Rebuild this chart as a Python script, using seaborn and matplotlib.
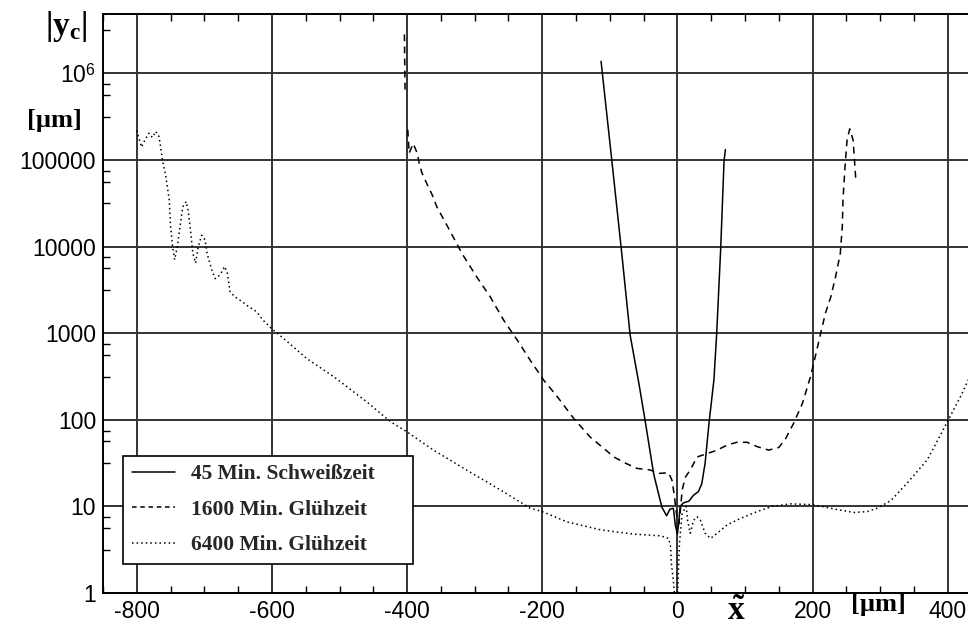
import numpy as np
import pandas as pd
import matplotlib
matplotlib.use("Agg")
import matplotlib.pyplot as plt
from matplotlib.lines import Line2D
from matplotlib.ticker import NullFormatter, FixedLocator
import seaborn as sns

# --- 45 Min. Schweißzeit ---------------------------------------------------
x_schweiss = [-113, -97, -83, -70, -57, -48, -35, -23, -16, -11, -6, -3, 0, 2, 4,
              9, 17, 24, 31, 36, 41, 47, 54, 58, 64, 69, 71]
y_schweiss = [1.38e6, 97700, 9330, 955, 263, 100, 23.4, 9.8, 7.8, 9.3, 9.5, 6.0,
              4.8, 6.5, 10.0, 11.0, 11.5, 13.5, 14.8, 18.2, 31.6, 95.5, 288, 955,
              9330, 97700, 132000]

# --- 1600 Min. Glühzeit (two segments: spike at the left edge, main curve) --
x_gluehen_1600_a = [-404, -403]
y_gluehen_1600_a = [2.82e6, 589000]
x_gluehen_1600_b = [-399, -397, -391, -385, -382, -378, -371, -363, -356, -340,
                    -318, -297, -277, -257, -237, -218, -198, -178, -154, -129,
                    -109, -94, -77, -60, -40, -28, -13, -8, -5, -1.5, 2, 4, 7,
                    12, 19, 29, 44, 59, 74, 88, 103, 118, 135, 150, 160, 172,
                    185, 197, 204, 212, 219, 227, 234, 241, 244, 245, 248, 251,
                    255, 260, 262, 264]
y_gluehen_1600_b = [224000, 120000, 155000, 120000, 91200, 70800, 53700, 39800,
                    28800, 17000, 8130, 4470, 2630, 1410, 832, 490, 288, 186,
                    105, 63.1, 46.8, 37.2, 31.6, 27.5, 26.3, 24.0, 24.5, 20.0,
                    14.1, 8.32, 6.31, 8.32, 15.5, 21.9, 26.3, 37.2, 40.7, 44.7,
                    51.3, 55.0, 55.0, 49.0, 44.7, 47.9, 60.3, 91.2, 155, 316,
                    537, 1000, 1700, 2630, 4470, 8320, 17000, 34700, 83200,
                    170000, 229000, 170000, 100000, 58900]

# --- 6400 Min. Glühzeit ----------------------------------------------------
x_gluehen_6400 = [-800, -793, -788, -782, -777, -772, -767, -762, -757, -752,
                  -750, -747, -744, -740, -736, -732, -727, -724, -720, -717,
                  -713, -709, -704, -699, -696, -689, -684, -677, -670, -666,
                  -662, -655, -645, -635, -623, -613, -599, -586, -568, -549,
                  -509, -460, -425, -400, -361, -312, -262, -218, -200, -163,
                  -114, -65, -25, -13, -10, -9, -6, -4, 0, 3, 7, 13, 15, 19,
                  24, 29, 34, 41, 49, 59, 74, 93, 118, 140, 167, 197, 214, 232,
                  261, 281, 296, 316, 340, 370, 401, 419, 431]
y_gluehen_6400 = [219000, 141000, 170000, 204000, 182000, 214000, 186000,
                  100000, 64600, 34700, 17000, 10000, 7080, 10000, 17000,
                  28800, 33100, 26300, 14100, 8320, 6460, 10000, 13500, 12000,
                  8320, 5370, 4270, 4680, 5890, 4900, 3020, 2630, 2340, 2040,
                  1780, 1410, 1100, 912, 692, 513, 316, 162, 95.5, 72.4, 44.7,
                  26.3, 15.5, 9.55, 8.71, 6.61, 5.37, 4.79, 4.57, 4.27, 3.39,
                  2.19, 1.41, 0.89, 0.89, 3.72, 8.32, 10.0, 6.92, 4.90, 6.92,
                  7.59, 6.92, 4.90, 4.27, 4.90, 6.17, 7.24, 8.71, 10.0, 10.7,
                  10.5, 10.0, 9.33, 8.51, 8.71, 9.55, 11.7, 18.6, 34.7, 100,
                  186, 295]

series_labels = ["45 Min. Schweißzeit", "1600 Min. Glühzeit", "6400 Min. Glühzeit"]
x_ticks = [-800, -600, -400, -200, 0, 200, 400]
x_tick_labels = ["-800", "-600", "-400", "-200", "0", "200", "400"]
y_ticks = [1, 10, 100, 1000, 10000, 100000, 1000000]
y_tick_labels = ["1", "10", "100", "1000", "10000", "100000", r"$10^6$"]

sns.set_theme(style="white")
plt.rcParams.update({
    "font.family": ["Liberation Sans", "DejaVu Sans"],
    "axes.unicode_minus": False,
    "mathtext.fontset": "custom",
    "mathtext.rm": "Liberation Sans",
    "mathtext.bf": "Liberation Serif:bold",
    "mathtext.it": "Liberation Serif:italic",
})


def frame(xs, ys, label, seg):
    return pd.DataFrame({"x": xs, "y": ys, "serie": label, "seg": seg})


df = pd.concat([
    frame(x_schweiss, y_schweiss, series_labels[0], 0),
    frame(x_gluehen_1600_a, y_gluehen_1600_a, series_labels[1], 1),
    frame(x_gluehen_1600_b, y_gluehen_1600_b, series_labels[1], 2),
    frame(x_gluehen_6400, y_gluehen_6400, series_labels[2], 3),
], ignore_index=True)

dash_styles = {series_labels[0]: "", series_labels[1]: (4.5, 3.4),
               series_labels[2]: (1.0, 2.0)}

fig = plt.figure(figsize=(9.68, 6.28), dpi=100)
ax = fig.add_axes([103 / 968, 35 / 628, 865 / 968, 579 / 628])
ax.set_yscale("log")

sns.lineplot(data=df, x="x", y="y", style="serie", units="seg", estimator=None,
             sort=False, color="black", dashes=dash_styles, linewidth=1.1,
             style_order=series_labels, legend=False, ax=ax)

ax.set_xlim(-850, 430)
ax.set_ylim(1, 10 ** 6.686)

ax.set_xticks(x_ticks)
ax.set_xticklabels(x_tick_labels)
ax.set_yticks(y_ticks)
ax.set_yticklabels(y_tick_labels)
ax.xaxis.set_minor_locator(FixedLocator(np.arange(-850, 431, 50)))
ax.yaxis.set_minor_locator(FixedLocator(
    [m * 10.0 ** k for k in range(0, 7) for m in (3.16, 5.62, 7.5)]))
ax.yaxis.set_minor_formatter(NullFormatter())

ax.tick_params(which="major", length=0, labelsize=16.5, colors="black", pad=5)
ax.tick_params(which="minor", direction="in", length=5, width=1.0,
               color="black", top=True, bottom=True, left=True, right=False)

ax.grid(True, which="major", color="#333333", linewidth=1.4)
ax.set_axisbelow(True)
for side in ("left", "top", "bottom"):
    ax.spines[side].set_color("black")
    ax.spines[side].set_linewidth(1.4)
ax.spines["right"].set_visible(False)
ax.set_xlabel("")
ax.set_ylabel("")

# axis annotations
serif_bold = dict(family="Liberation Serif", weight="bold", color="black")
fig.text(66 / 968, 1 - 26 / 628, r"$\mathbf{|y_c|}$", ha="center", va="center",
         fontsize=24, color="black")
fig.text(54 / 968, 1 - 121 / 628, "[µm]", ha="center", va="center",
         fontsize=19, **serif_bold)
fig.text(736 / 968, 1 - 611 / 628, r"$\mathbf{\tilde{x}}$", ha="center",
         va="center", fontsize=24, color="black")
fig.text(878 / 968, 1 - 604 / 628, "[µm]", ha="center", va="center",
         fontsize=19, **serif_bold)

handles = [Line2D([], [], color="black", linewidth=1.1, linestyle="-"),
           Line2D([], [], color="black", linewidth=1.1, dashes=(3.0, 2.4)),
           Line2D([], [], color="black", linewidth=1.1, dashes=(1.0, 2.0))]
leg = ax.legend(handles, series_labels, loc="lower left",
                bbox_to_anchor=(0.023, 0.05, 0.335, 0.192), mode="expand",
                borderaxespad=0, frameon=True,
                fancybox=False, framealpha=1, edgecolor="black",
                prop=dict(family="Liberation Serif", weight="bold", size=15.5),
                handlelength=2.0, handletextpad=0.75, labelspacing=0.72,
                borderpad=0.4)
leg.get_frame().set_linewidth(1.2)

fig.savefig("out.png", dpi=100, facecolor="white")
